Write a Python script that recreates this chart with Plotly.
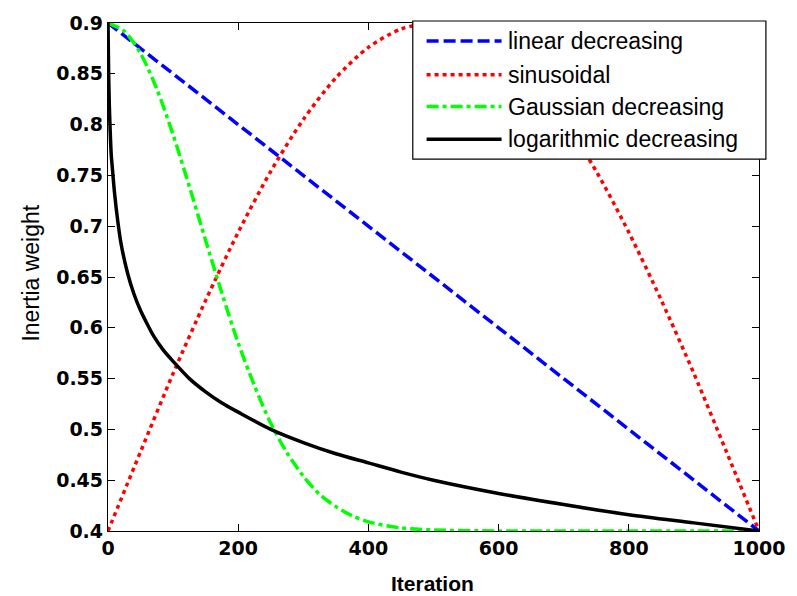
import plotly.graph_objects as go

# ---- data -------------------------------------------------------------
linear_x = [0, 1000]
linear_y = [0.9, 0.4]

sin_x = [0, 50, 100, 150, 200, 250, 300, 350, 400, 450, 500,
         550, 600, 650, 700, 750, 800, 850, 900, 950, 1000]
sin_y = [0.400, 0.478, 0.555, 0.627, 0.694, 0.754, 0.805, 0.846, 0.876, 0.894, 0.900,
         0.894, 0.876, 0.846, 0.805, 0.754, 0.694, 0.627, 0.555, 0.478, 0.400]

gauss_x = [0, 25, 50, 75, 100, 125, 150, 175, 200, 225, 250, 275, 300,
           325, 350, 375, 400, 450, 500, 600, 700, 800, 900, 1000]
gauss_y = [0.900, 0.892, 0.870, 0.835, 0.790, 0.739, 0.686, 0.634, 0.585, 0.543,
           0.506, 0.477, 0.454, 0.436, 0.424, 0.415, 0.409, 0.403, 0.401, 0.400,
           0.400, 0.400, 0.400, 0.400]

log_x = [0, 1, 2, 3, 5, 7, 10, 15, 20, 30, 40, 50, 60, 70, 85, 100, 125, 150,
         175, 200, 250, 300, 350, 400, 450, 500, 600, 700, 800, 900, 1000]
log_y = [0.900, 0.850, 0.820, 0.800, 0.770, 0.755, 0.733, 0.705, 0.683, 0.654,
         0.633, 0.617, 0.604, 0.592, 0.578, 0.567, 0.550, 0.537, 0.526, 0.517,
         0.500, 0.487, 0.476, 0.467, 0.458, 0.450, 0.437, 0.426, 0.416, 0.408,
         0.400]

series_names = ["linear decreasing", "sinusoidal", "Gaussian decreasing",
                "logarithmic decreasing"]

x_ticks = [0, 200, 400, 600, 800, 1000]
y_ticks = [0.4, 0.45, 0.5, 0.55, 0.6, 0.65, 0.7, 0.75, 0.8, 0.85, 0.9]
y_tick_text = ["0.4", "0.45", "0.5", "0.55", "0.6", "0.65", "0.7", "0.75",
               "0.8", "0.85", "0.9"]

# ---- styles -----------------------------------------------------------
styles = [
    dict(color="#0000ff", width=3.5, dash="12px,5px", shape="linear"),
    dict(color="#ff0000", width=3.5, dash="4px,4px", shape="spline"),
    dict(color="#00ff00", width=3.5, dash="12px,4px,4px,4px", shape="spline"),
    dict(color="#000000", width=3.5, dash="solid", shape="spline"),
]

W, H = 797, 596
M_L, M_R, M_T, M_B = 108, 29, 20, 65
PW, PH = W - M_L - M_R, H - M_T - M_B


def px(xp):
    return (xp - M_L) / PW


def py(yp):
    return (H - M_B - yp) / PH


fig = go.Figure()
for (xs, ys), name, st in zip(
        [(linear_x, linear_y), (sin_x, sin_y), (gauss_x, gauss_y), (log_x, log_y)],
        series_names, styles):
    fig.add_trace(go.Scatter(x=xs, y=ys, mode="lines", name=name,
                             line=dict(color=st["color"], width=st["width"],
                                       dash=st["dash"], shape=st["shape"],
                                       smoothing=0.8),
                             showlegend=False))

# ---- hand-drawn legend box --------------------------------------------
shapes = [dict(type="rect", xref="paper", yref="paper",
               x0=px(417), x1=px(775), y0=py(157), y1=py(18),
               fillcolor="white", line=dict(color="black", width=1.2),
               layer="above")]
annotations = []
row_y = [38, 72, 104, 137]
for name, st, ry in zip(series_names, styles, row_y):
    shapes.append(dict(type="line", xref="paper", yref="paper",
                       x0=px(431), x1=px(507), y0=py(ry), y1=py(ry),
                       line=dict(color=st["color"], width=st["width"], dash=st["dash"]),
                       layer="above"))
    annotations.append(dict(xref="paper", yref="paper", x=px(512), y=py(ry),
                            text=name, showarrow=False, xanchor="left",
                            yanchor="middle",
                            font=dict(family="Liberation Sans, Arial", size=23,
                                      color="black")))

# axis titles
annotations.append(dict(xref="paper", yref="paper", x=px(437), y=py(584),
                        text="<b>Iteration</b>", showarrow=False,
                        xanchor="center", yanchor="middle",
                        font=dict(family="Liberation Sans, Arial", size=21,
                                  color="black")))
annotations.append(dict(xref="paper", yref="paper", x=px(29), y=py(272),
                        text="Inertia weight", showarrow=False, textangle=-90,
                        xanchor="center", yanchor="middle",
                        font=dict(family="Liberation Sans, Arial", size=23,
                                  color="black")))

tick_font = dict(family="DejaVu Sans", size=19, color="black")

fig.update_layout(
    width=W, height=H,
    margin=dict(l=M_L, r=M_R, t=M_T, b=M_B),
    paper_bgcolor="white", plot_bgcolor="white",
    shapes=shapes, annotations=annotations,
    xaxis=dict(range=[0, 1000], tickvals=x_ticks,
               ticktext=["<b>%d</b>" % v for v in x_ticks],
               ticks="inside", ticklen=7, tickcolor="black", tickwidth=1,
               showline=True, linecolor="black", linewidth=1.3, mirror="ticks",
               showgrid=False, zeroline=False, tickfont=tick_font),
    yaxis=dict(range=[0.4, 0.9], tickvals=y_ticks,
               ticktext=["<b>%s</b>" % t for t in y_tick_text],
               ticks="inside", ticklen=7, tickcolor="black", tickwidth=1,
               showline=True, linecolor="black", linewidth=1.3, mirror="ticks",
               showgrid=False, zeroline=False, tickfont=tick_font),
)

fig.write_html("out.html")
